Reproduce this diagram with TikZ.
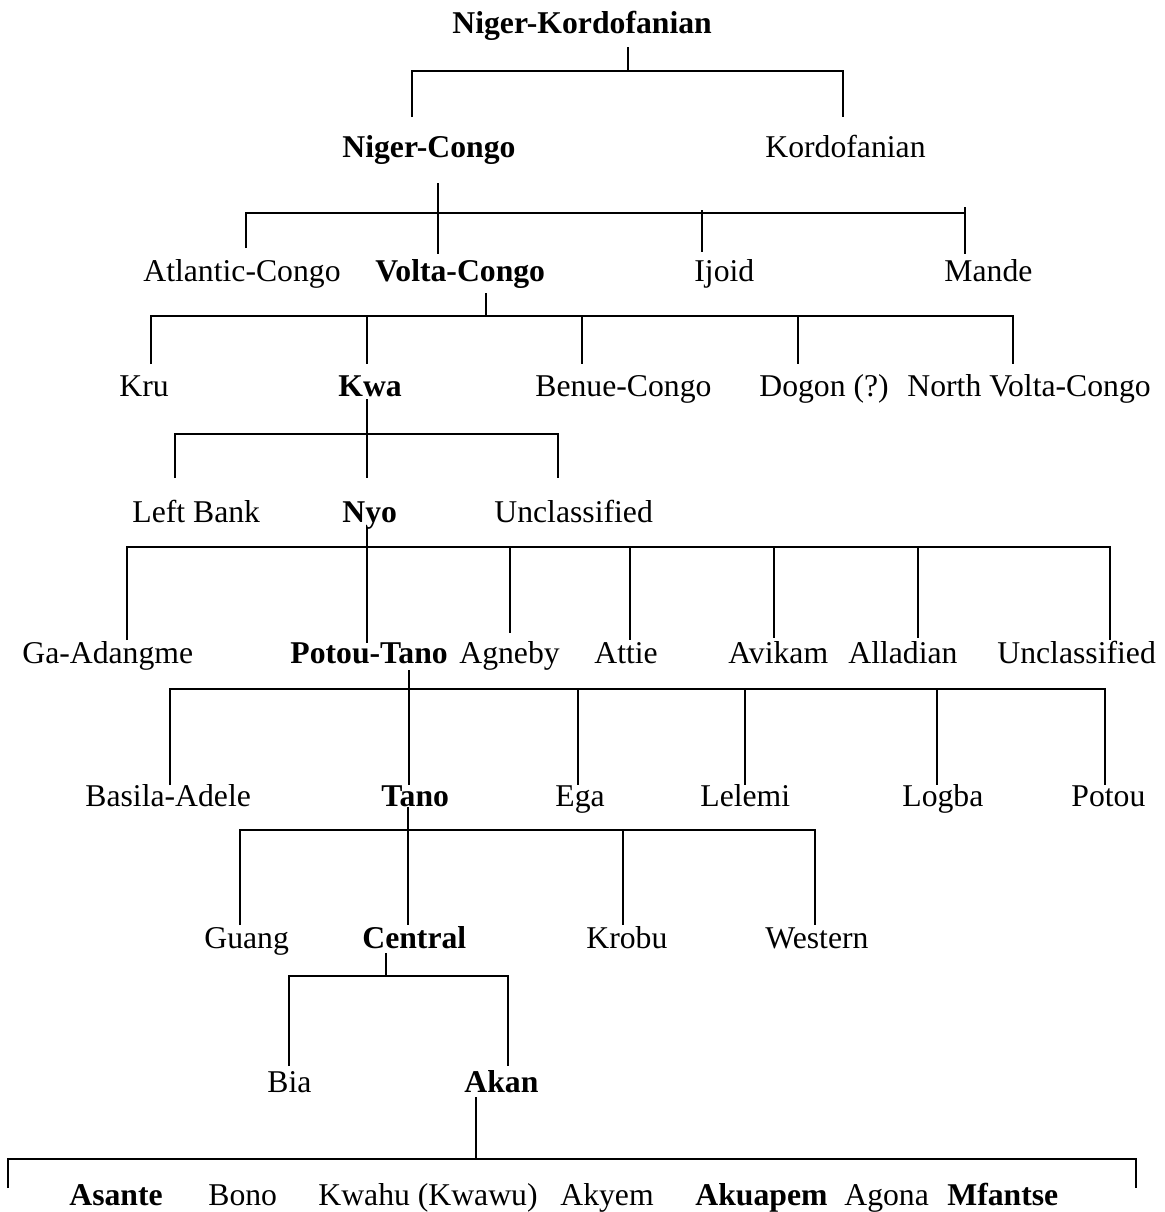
\documentclass[tikz,border=0pt]{standalone}
\usepackage{fontspec}
\setmainfont{Liberation Serif}

\begin{document}
\begin{tikzpicture}[x=0.5pt,y=-0.5pt,
          lang/.style={anchor=base west,inner sep=0pt,
                       font=\fontsize{15.85}{19}\selectfont},
          main/.style={lang,font=\fontsize{15.85}{19}\selectfont\bfseries},
          link/.style={line width=1pt}]
  \useasboundingbox (0,0) rectangle (1165,1212);
  % labels, one row per level
  \node[main] (nk) at (452,33) {Niger-Kordofanian};
  \node[main] (nc) at (342,157) {Niger-Congo};
  \node[lang] (kord) at (765,157) {Kordofanian};
  \node[lang] (atl) at (143,281) {Atlantic-Congo};
  \node[main] (vc) at (375,281) {Volta-Congo};
  \node[lang] (ijoid) at (694,281) {Ijoid};
  \node[lang] (mande) at (944,281) {Mande};
  \node[lang] (kru) at (119,396) {Kru};
  \node[main] (kwa) at (338,396) {Kwa};
  \node[lang] (benue) at (535,396) {Benue-Congo};
  \node[lang] (dogon) at (759,396) {Dogon (?)};
  \node[lang] (nvc) at (907,396) {North Volta-Congo};
  \node[lang] (leftbank) at (132,522) {Left Bank};
  \node[main] (nyo) at (342,522) {Nyo};
  \node[lang] (unclA) at (494,522) {Unclassified};
  \node[lang] (ga) at (22,663) {Ga-Adangme};
  \node[main] (pt) at (290,663) {Potou-Tano};
  \node[lang] (agneby) at (459,663) {Agneby};
  \node[lang] (attie) at (594,663) {Attie};
  \node[lang] (avikam) at (728,663) {Avikam};
  \node[lang] (alladian) at (848,663) {Alladian};
  \node[lang] (unclB) at (997,663) {Unclassified};
  \node[lang] (basila) at (85,806) {Basila-Adele};
  \node[main] (tano) at (381,806) {Tano};
  \node[lang] (ega) at (555,806) {Ega};
  \node[lang] (lelemi) at (700,806) {Lelemi};
  \node[lang] (logba) at (902,806) {Logba};
  \node[lang] (potou) at (1071,806) {Potou};
  \node[lang] (guang) at (204,948) {Guang};
  \node[main] (central) at (362,948) {Central};
  \node[lang] (krobu) at (586,948) {Krobu};
  \node[lang] (western) at (765,948) {Western};
  \node[lang] (bia) at (267,1092) {Bia};
  \node[main] (akan) at (464,1092) {Akan};
  \node[main] (asante) at (69,1205) {Asante};
  \node[lang] (bono) at (208,1205) {Bono};
  \node[lang] (kwahu) at (318,1205) {Kwahu (Kwawu)};
  \node[lang] (akyem) at (560,1205) {Akyem};
  \node[main] (akuapem) at (695,1205) {Akuapem};
  \node[lang] (agona) at (844,1205) {Agona};
  \node[main] (mfantse) at (947,1205) {Mfantse};
  % Niger-Kordofanian
  \draw[link] (628,47) -- (628,71);
  \draw[link] (412,117) |- (843,71) -- (843,117);
  % Niger-Congo
  \draw[link] (438,183) -- (438,254);
  \draw[link] (246,248) |- (965,213);
  \draw[link] (702,210) -- (702,252);
  \draw[link] (965,207) -- (965,254);
  % Volta-Congo
  \draw[link] (486,293) -- (486,316);
  \draw[link] (151,364) |- (1013,316) -- (1013,364);
  \draw[link] (367,316) -- (367,364);
  \draw[link] (582,316) -- (582,364);
  \draw[link] (798,316) -- (798,364);
  % Kwa
  \draw[link] (367,399) -- (367,478);
  \draw[link] (175,478) |- (558,434) -- (558,478);
  % Nyo
  \draw[link] (367,528) -- (367,643);
  \draw[link] (127,640) |- (1110,547) -- (1110,640);
  \draw[link] (510,547) -- (510,633);
  \draw[link] (630,547) -- (630,640);
  \draw[link] (774,547) -- (774,638);
  \draw[link] (918,547) -- (918,638);
  % Potou-Tano
  \draw[link] (409,670) -- (409,785);
  \draw[link] (170,785) |- (1105,689) -- (1105,785);
  \draw[link] (578,689) -- (578,785);
  \draw[link] (745,689) -- (745,785);
  \draw[link] (937,689) -- (937,785);
  % Tano
  \draw[link] (408,807) -- (408,925);
  \draw[link] (240,925) |- (815,830) -- (815,925);
  \draw[link] (623,830) -- (623,925);
  % Central
  \draw[link] (386,953) -- (386,976);
  \draw[link] (289,1066) |- (508,976) -- (508,1066);
  % Akan
  \draw[link] (476,1097) -- (476,1160);
  \draw[link] (8,1188) |- (1136,1159) -- (1136,1188);
\end{tikzpicture}
\end{document}
